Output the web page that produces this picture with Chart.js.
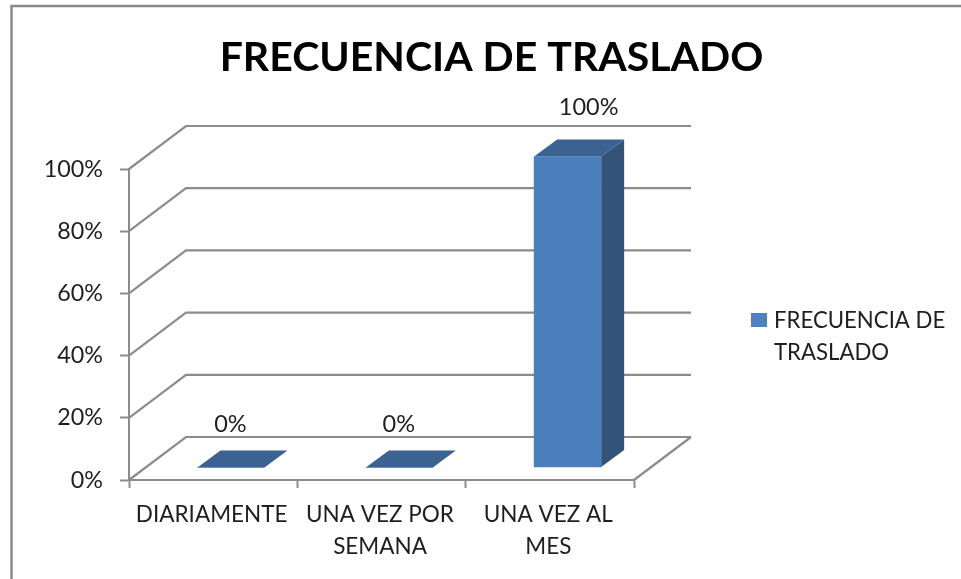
<!DOCTYPE html>
<html lang="es">
<head>
<meta charset="utf-8">
<style>html,body{margin:0;padding:0;background:#fff;overflow:hidden}canvas{display:block}</style>
<script src="https://cdn.jsdelivr.net/npm/chart.js@4"></script>
</head>
<body>
<canvas id="c" width="961" height="579"></canvas>
<script>
const titleText = "FRECUENCIA DE TRASLADO";
const categories = ["DIARIAMENTE", ["UNA VEZ POR", "SEMANA"], ["UNA VEZ AL", "MES"]];
const seriesName = "FRECUENCIA DE TRASLADO";
const legendLines = ["FRECUENCIA DE", "TRASLADO"];
const seriesValues = [0, 0, 100];
const valueLabels = ["0%", "0%", "100%"];

const FONT = "Lato, 'Noto Sans', sans-serif";
const TXT = "#1f1f1f", GRID = "#8c8c8c";
const WALL = {x: 57, y: -43};   // depth of the 3D box
const BAR_SHIFT = {x: 17.8, y: -12.5};  // bar sits inside the box
const BAR_DEPTH = {x: 23, y: -17};

const poly = (ctx, pts, fill) => {
  ctx.beginPath();
  pts.forEach((p, i) => i ? ctx.lineTo(p[0], p[1]) : ctx.moveTo(p[0], p[1]));
  ctx.closePath(); ctx.fillStyle = fill; ctx.fill();
};

const scene = {
  id: "scene",
  afterLayout(chart) {
    const t = chart.titleBlock;
    t.left = 22; t.right = 961; t.width = 939;
  },
  beforeDraw(chart) {
    const {ctx} = chart;
    ctx.save();
    ctx.strokeStyle = "#8a8a8a"; ctx.lineWidth = 2.5;
    ctx.beginPath(); ctx.moveTo(11.5, 579); ctx.lineTo(11.5, 6); ctx.lineTo(961, 6); ctx.stroke();
    ctx.restore();
  },
  beforeDatasetsDraw(chart) {
    const {ctx, chartArea: a, scales: {y}} = chart;
    ctx.save();
    ctx.strokeStyle = GRID; ctx.lineWidth = 2.2;
    y.ticks.forEach(t => {
      const py = y.getPixelForValue(t.value);
      ctx.beginPath();
      ctx.moveTo(a.left, py);
      ctx.lineTo(a.left + WALL.x, py + WALL.y);
      ctx.lineTo(a.right + WALL.x, py + WALL.y);
      ctx.stroke();
    });
    const b = y.getPixelForValue(0);
    ctx.beginPath(); ctx.moveTo(a.right, b); ctx.lineTo(a.right + WALL.x, b + WALL.y); ctx.stroke();
    ctx.restore();
  },
  beforeDatasetDraw(chart) {
    const {ctx} = chart;
    chart.getDatasetMeta(0).data.forEach(el => {
      const l = el.x - el.width / 2 + BAR_SHIFT.x, r = l + el.width;
      const t = el.y + BAR_SHIFT.y, b = el.base + BAR_SHIFT.y;
      const dx = BAR_DEPTH.x, dy = BAR_DEPTH.y;
      if (b - t > 0.5) poly(ctx, [[r, t], [r + dx, t + dy], [r + dx, b + dy], [r, b]], "#335379");
      poly(ctx, [[l, t], [r, t], [r + dx, t + dy], [l + dx, t + dy]], "#3b6291");
    });
    ctx.save();
    ctx.translate(BAR_SHIFT.x, BAR_SHIFT.y);
  },
  afterDatasetDraw(chart) { chart.ctx.restore(); },
  afterDatasetsDraw(chart) {
    const {ctx} = chart;
    ctx.save();
    ctx.fillStyle = TXT; ctx.font = "23.5px " + FONT;
    ctx.textAlign = "center"; ctx.textBaseline = "middle";
    chart.getDatasetMeta(0).data.forEach((el, i) => {
      const big = seriesValues[i] > 0;
      ctx.fillText(valueLabels[i], el.x + BAR_SHIFT.x + (big ? 21 : -0.5), el.y + BAR_SHIFT.y + (big ? -49 : -43));
    });
    // legend
    ctx.fillStyle = "#4f81bd";
    ctx.fillRect(751, 313, 16, 14);
    ctx.fillStyle = TXT; ctx.font = "22.2px " + FONT; ctx.textAlign = "left";
    legendLines.forEach((s, i) => ctx.fillText(s, 774, 321 + i * 32));
    ctx.restore();
  }
};

const titleSize = 41;
new Chart(document.getElementById("c"), {
  type: "bar",
  data: {
    labels: categories,
    datasets: [{label: seriesName, data: seriesValues, backgroundColor: "#4b7fbd", borderWidth: 0, barThickness: 67, clip: false}]
  },
  options: {
    responsive: false,
    animation: false,
    layout: {padding: {left: 22, right: 327, top: 0, bottom: 0}},
    plugins: {
      legend: {display: false},
      tooltip: {enabled: false},
      title: {
        display: true, text: titleText, color: "#000",
        font: {family: FONT, size: titleSize, weight: "bold", lineHeight: 1.2},
        padding: {top: 58 - titleSize * 0.6, bottom: 169 - 58 - titleSize * 0.6}
      }
    },
    scales: {
      x: {
        afterFit(s) { s.height = 99; },
        border: {color: GRID, width: 2},
        grid: {offset: true, drawOnChartArea: false, drawTicks: true, tickLength: 8, tickColor: GRID, tickWidth: 2},
        ticks: {color: TXT, padding: 11, maxRotation: 0, minRotation: 0, autoSkip: false, labelOffset: -1.5,
                font: {family: FONT, size: 22.5, lineHeight: 1.42}}
      },
      y: {
        min: 0, max: 100,
        afterFit(s) { s.width = 107; },
        border: {color: GRID, width: 2},
        grid: {drawOnChartArea: false, drawTicks: true, tickLength: 9, tickColor: GRID, tickWidth: 2},
        ticks: {stepSize: 20, color: TXT, padding: 17, callback: v => v + "%",
                font: {family: FONT, size: 23.3}}
      }
    }
  },
  plugins: [scene]
});
</script>
</body>
</html>
